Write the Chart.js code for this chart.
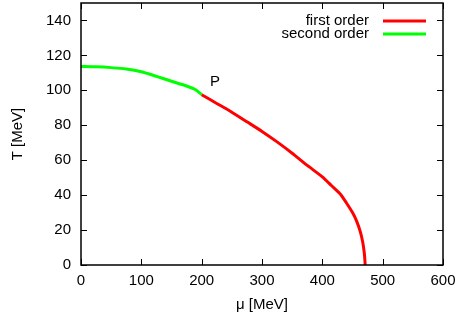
<!DOCTYPE html>
<html>
<head>
<meta charset="utf-8">
<script src="https://cdn.jsdelivr.net/npm/chart.js@4"></script>
<style>
  html, body { margin: 0; padding: 0; background: #ffffff; }
  #wrap { width: 459px; height: 320px; }
</style>
</head>
<body>
<div id="wrap"><canvas id="phaseChart" width="459" height="320"></canvas></div>
<script>
// Phase boundary in the (mu, T) plane.
const secondOrderMu = [0, 25, 50, 75, 100, 125, 150, 175, 190, 200];
const secondOrderT  = [113.7, 113.5, 113.0, 112.2, 110.6, 108.0, 105.2, 102.5, 100.3, 97.5];

const firstOrderMu = [200, 225, 250, 275, 300, 325, 350, 375, 400, 415, 430, 440, 450, 457, 463, 467, 469.5, 470.5, 471];
const firstOrderT  = [97.5, 92.5, 87.5, 82, 76.5, 70.5, 64, 57, 50.5, 45.5, 40.5, 35.5, 30, 25, 19, 13, 7, 3, 0];

const xTickValues = [0, 100, 200, 300, 400, 500, 600];
const yTickValues = [0, 20, 40, 60, 80, 100, 120, 140];

const seriesNames = ['first order', 'second order'];
const seriesColors = ['#ff0000', '#00ff00'];

// the "P" label next to the point where the two orders meet
const pointLabel = { text: 'P', mu: 222, T: 105 };

const FONT = '"Liberation Sans", Arial, Helvetica, sans-serif';

function toPoints(xs, ys) {
  return xs.map((x, i) => ({ x: x, y: ys[i] }));
}

// gnuplot look: inward ticks on all four sides, full box, inside legend, P label
const gnuplotFrame = {
  id: 'gnuplotFrame',
  afterDraw(chart) {
    const ctx = chart.ctx;
    const a = chart.chartArea;
    const xs = chart.scales.x, ys = chart.scales.y;
    const len = 6;
    ctx.save();
    ctx.strokeStyle = '#000000';
    ctx.lineWidth = 1;
    ctx.beginPath();
    xs.ticks.forEach(t => {
      const px = Math.round(xs.getPixelForValue(t.value)) + 0.5;
      ctx.moveTo(px, a.bottom); ctx.lineTo(px, a.bottom - len);
      ctx.moveTo(px, a.top); ctx.lineTo(px, a.top + len);
    });
    ys.ticks.forEach(t => {
      const py = Math.round(ys.getPixelForValue(t.value)) + 0.5;
      ctx.moveTo(a.left, py); ctx.lineTo(a.left + len, py);
      ctx.moveTo(a.right, py); ctx.lineTo(a.right - len, py);
    });
    ctx.stroke();
    ctx.lineWidth = 1.5;
    ctx.strokeRect(a.left, a.top, a.right - a.left, a.bottom - a.top);

    // legend, top right inside the box
    ctx.font = '15px ' + FONT;
    ctx.fillStyle = '#000000';
    ctx.textAlign = 'right';
    ctx.textBaseline = 'middle';
    seriesNames.forEach((name, i) => {
      const y = a.top + 18 + i * 13;
      ctx.fillText(name, a.right - 74, y);
      ctx.strokeStyle = seriesColors[i];
      ctx.lineWidth = 3;
      ctx.beginPath();
      ctx.moveTo(a.right - 60, y);
      ctx.lineTo(a.right - 17, y);
      ctx.stroke();
    });

    ctx.textAlign = 'center';
    ctx.fillText(pointLabel.text, xs.getPixelForValue(pointLabel.mu), ys.getPixelForValue(pointLabel.T));
    ctx.restore();
  }
};

new Chart(document.getElementById('phaseChart').getContext('2d'), {
  type: 'scatter',
  data: {
    datasets: [
      {
        label: seriesNames[0],
        data: toPoints(firstOrderMu, firstOrderT),
        showLine: true,
        borderColor: seriesColors[0],
        borderWidth: 3,
        pointRadius: 0,
        tension: 0.2
      },
      {
        label: seriesNames[1],
        data: toPoints(secondOrderMu, secondOrderT),
        showLine: true,
        borderColor: seriesColors[1],
        borderWidth: 3,
        pointRadius: 0,
        tension: 0.2
      }
    ]
  },
  options: {
    responsive: false,
    animation: false,
    layout: { padding: { top: 3, right: 16, left: 0, bottom: 0 } },
    plugins: {
      legend: { display: false },
      tooltip: { enabled: false }
    },
    scales: {
      x: {
        type: 'linear',
        min: 0,
        max: 600,
        grid: { display: false, drawTicks: false },
        border: { display: false },
        afterBuildTicks: s => { s.ticks = xTickValues.map(v => ({ value: v })); },
        afterFit: s => { s.height = 55; s.paddingLeft = 0; s.paddingRight = 0; },
        ticks: { color: '#000000', padding: 7, maxRotation: 0, font: { family: FONT, size: 15 } },
        title: {
          display: true,
          text: 'μ [MeV]',
          color: '#000000',
          padding: { top: 0, bottom: 6 },
          font: { family: FONT, size: 15 }
        }
      },
      y: {
        type: 'linear',
        min: 0,
        max: 150,
        grid: { display: false, drawTicks: false },
        border: { display: false },
        afterBuildTicks: s => { s.ticks = yTickValues.map(v => ({ value: v })); },
        afterFit: s => { s.width = 81; s.paddingTop = 0; s.paddingBottom = 0; },
        ticks: { color: '#000000', padding: 10, font: { family: FONT, size: 15 } },
        title: {
          display: true,
          text: 'T [MeV]',
          color: '#000000',
          padding: { top: 9, bottom: 0 },
          font: { family: FONT, size: 15 }
        }
      }
    }
  },
  plugins: [gnuplotFrame]
});
</script>
</body>
</html>
